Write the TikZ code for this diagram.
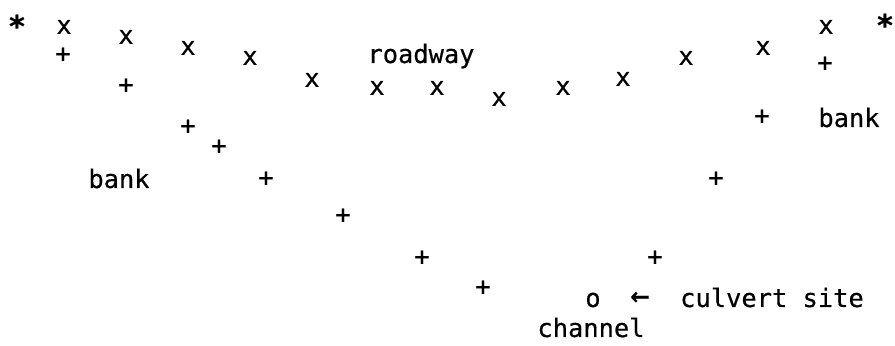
\documentclass[tikz,border=0pt]{standalone}
\usepackage{fontspec}
\setmonofont[FakeBold=0.4]{DejaVu Sans Mono}
\usepackage{tikz}
\newcommand{\plotfont}{\ttfamily\fontsize{12.7}{15}\selectfont}
\tikzset{
  road/.style = {inner sep=0pt, font=\plotfont},
  bed/.style  = {inner sep=0pt, font=\plotfont},
  lbl/.style  = {inner sep=0pt, anchor=base, font=\plotfont},
  tip/.style  = {inner sep=0pt, anchor=base, font=\ttfamily\bfseries\fontsize{15}{18}\selectfont},
}

\begin{document}
\begin{tikzpicture}[x=0.5pt, y=-0.5pt]
    \useasboundingbox (0,0) rectangle (895,346);
    % end markers
    \node[tip] (endl) at (17,37) {*};
    \node[tip] (endr) at (885,36) {*};
    % roadway profile
    \foreach \n/\x/\y in {r1/64/27, r2/126/37, r3/188/48, r4/250/58, r5/312/80,
        r6/377/88, r7/437/88, r8/499/99, r9/563/88, r10/623/79, r11/686/58,
        r12/763/48, r13/826/27}{\node[road] (\n) at (\x,\y) {x};}
    % ground profile
    \foreach \n/\x/\y in {b1/63/55, b2/126/86, b3/188/127, b4/219/147, b5/266/179,
        b6/343/216, b7/422/258, b8/483/288, b9/655/258, b10/716/179,
        b11/762/117, b12/825/64}{\node[bed] (\n) at (\x,\y) {+};}
    \node[road] (site) at (593,300) {o};
    % labels
    \node[lbl] (rdw) at (421,63) {roadway};
    \node[lbl] (bkl) at (119,188) {bank};
    \node[lbl] (bkr) at (849,127) {bank};
    \node[lbl] (chn) at (591,337) {channel};
    \node[lbl, font=\ttfamily\fontsize{16}{18}\selectfont] (ptr) at (640,306) {←};
    \node[lbl] (cul) at (772,307) {culvert site};
\end{tikzpicture}
\end{document}
